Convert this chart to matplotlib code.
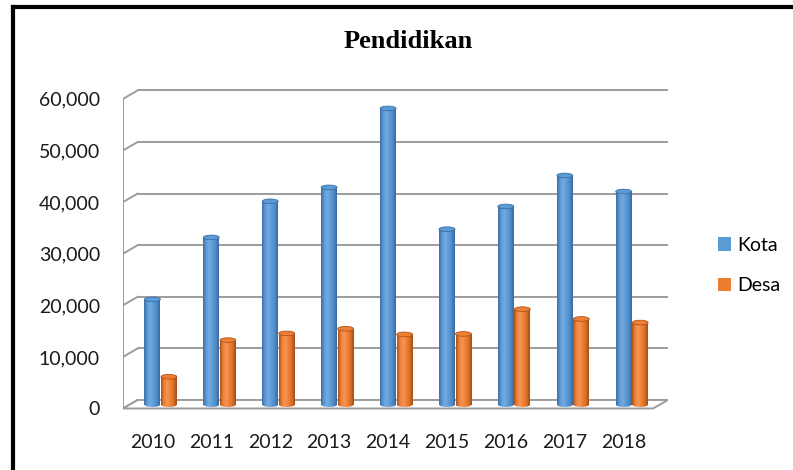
import numpy as np
import matplotlib
matplotlib.use('Agg')
import matplotlib.pyplot as plt
from matplotlib.patches import Ellipse, Polygon
from matplotlib.lines import Line2D
from matplotlib.colors import LinearSegmentedColormap

plt.rcParams['font.family'] = ['Lato', 'DejaVu Sans']

# data
years = ['2010', '2011', '2012', '2013', '2014', '2015', '2016', '2017', '2018']
kota = [20400, 32400, 39400, 42100, 57400, 34000, 38400, 44400, 41300]
desa = [5400, 12500, 13800, 14700, 13600, 13700, 18500, 16600, 15900]
yticks = list(range(0, 60001, 10000))

grid = '#9c9c9c'
dx = 0.25      # depth shift of back wall (categories)
dy = 1650      # depth shift of back wall (data units)
base = 750     # bars stand in the middle of the floor
w = 0.27
eh = 900       # height of the cylinder caps

fig = plt.figure(figsize=(7.93, 4.70), dpi=100)
ax = fig.add_axes([0.1551, 0.1277, 0.6873, 0.6851])
ax.set_facecolor('none')

# walls + floor
x0, x1 = -0.5, len(years) - 0.5
for v in yticks:
    ax.plot([x0 + dx, x1 + dx], [v + dy, v + dy], color=grid, lw=1.4, zorder=1)
    ax.plot([x0, x0 + dx], [v, v + dy], color=grid, lw=1.4, zorder=1)
ax.plot([x0, x0], [0, yticks[-1]], color=grid, lw=1.4, zorder=1)
ax.add_patch(Polygon([(x0, 0), (x1, 0), (x1 + dx, dy), (x0 + dx, dy)],
                     closed=True, fc='white', ec=grid, lw=1.4, zorder=1.5))

x = np.arange(len(years))
bk = ax.bar(x, kota, w, bottom=base, color='#5b9bd5', lw=0, zorder=3, label='Kota')
bd = ax.bar(x + 0.28, desa, w, bottom=base, color='#ed7d31', lw=0, zorder=4, label='Desa')

cm_k = LinearSegmentedColormap.from_list('k', ['#3d6da5', '#5e9bd7', '#72abe2', '#5e9cd7', '#4f8bc7', '#3a689e'])
cm_d = LinearSegmentedColormap.from_list('d', ['#b0521a', '#ef8438', '#f49555', '#ee8035', '#d86f26', '#a44c16'])
grad = np.linspace(0, 1, 64).reshape(1, -1)


def cylinders(bars, cmap, top_fc, top_ec, z):
    for r in bars:
        bx, by = r.get_x(), r.get_y()
        bw, bh = r.get_width(), r.get_height()
        cx = bx + bw / 2
        # bottom cap
        bot = Ellipse((cx, by), bw, eh, fc='none', ec='none', zorder=z - 0.2)
        ax.add_patch(bot)
        im = ax.imshow(grad, cmap=cmap, extent=(bx, bx + bw, by - eh, by + eh),
                       aspect='auto', origin='lower', zorder=z - 0.1)
        im.set_clip_path(bot)
        # body
        im = ax.imshow(grad, cmap=cmap, extent=(bx, bx + bw, by, by + bh),
                       aspect='auto', origin='lower', zorder=z + 0.1)
        im.set_clip_path(r)
        # top cap
        ax.add_patch(Ellipse((cx, by + bh), bw, eh, fc=top_fc, ec=top_ec,
                             lw=0.6, zorder=z + 0.2))


cylinders(bk, cm_k, '#5b9bd5', '#3d6ea3', 3)
cylinders(bd, cm_d, '#ee8035', '#b0541b', 4)

ax.set_xlim(-0.5, 8.753)
ax.set_ylim(-290, 62110)
ax.set_xticks(x, years)
ax.set_yticks(yticks, ['{:,}'.format(v) for v in yticks])
ax.tick_params(axis='both', length=0, labelsize=14, colors='#1a1a1a')
ax.tick_params(axis='y', pad=16.5)
ax.tick_params(axis='x', pad=17)
for s in ax.spines.values():
    s.set_visible(False)

fig.legend(handles=[bk, bd], labels=['Kota', 'Desa'], loc='center left',
           bbox_to_anchor=(718 / 793, 1 - 265.5 / 470), frameon=False,
           fontsize=14, handlelength=0.68, handleheight=0.68,
           handletextpad=0.3, labelspacing=1.2, borderpad=0, borderaxespad=0)

fig.text(408 / 793, 1 - 41 / 470, 'Pendidikan', ha='center', va='center',
         fontsize=19, fontweight='bold', family='Liberation Serif')

# black frame (left and top edges)
fig.add_artist(Line2D([12.5 / 793, 12.5 / 793], [0, 1 - 7 / 470], color='black', lw=3))
fig.add_artist(Line2D([12.5 / 793, 1], [1 - 7 / 470, 1 - 7 / 470], color='black', lw=3))

fig.savefig('out.png', dpi=100)
